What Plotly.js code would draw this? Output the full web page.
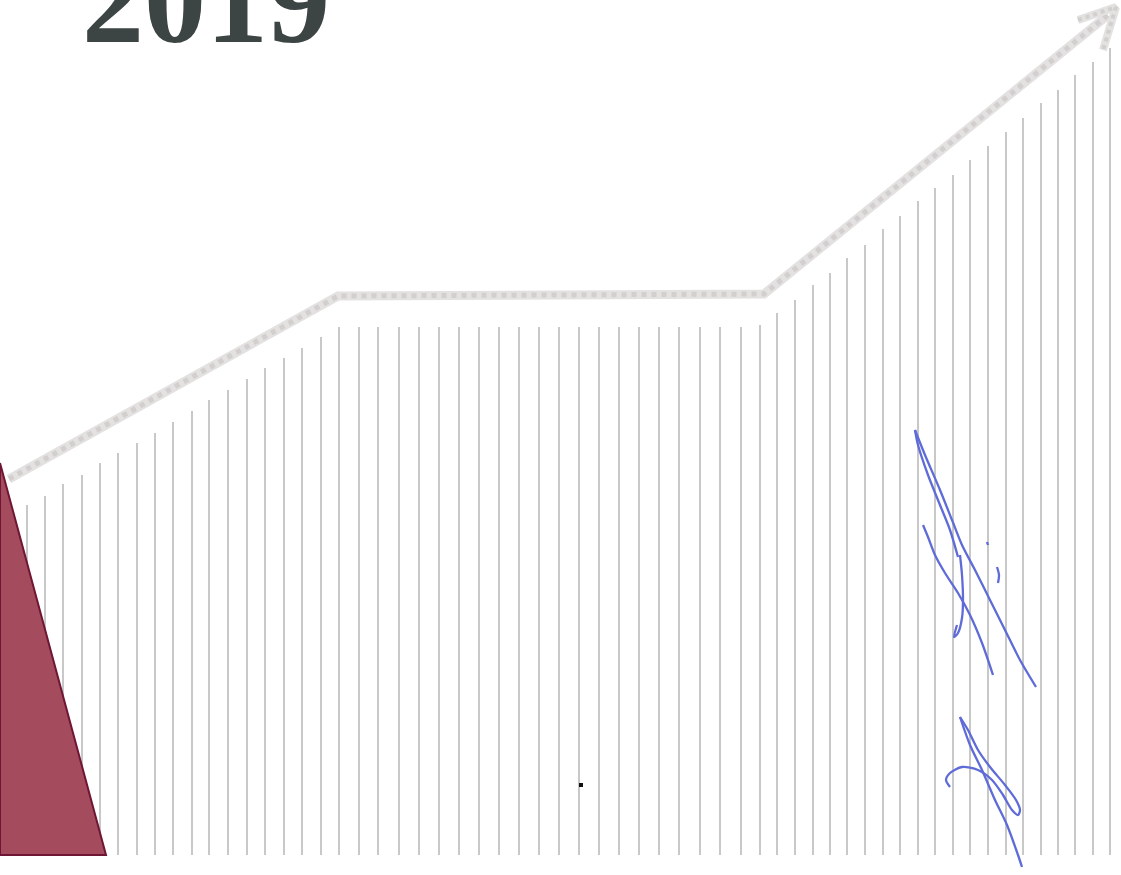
<!DOCTYPE html>
<html>
<head>
<meta charset="utf-8">
<script src="https://cdn.plot.ly/plotly-3.0.1.min.js"></script>
<style>
html,body{margin:0;padding:0;background:#fff;}
#chart{width:1121px;height:875px;}
</style>
</head>
<body>
<div id="chart"></div>
<script>
// ---- data ----
const titleText = "2019";

// stem positions (x) and heights above the baseline (y)
const stemX = [27,45,63,82,100,118,137,155,173,192,209,228,247,265,284,302,321,339,359,378,399,419,439,459,479,499,519,539,559,579,599,619,639,659,679,700,720,741,760,777,795,813,830,847,865,883,900,918,935,953,970,988,1006,1023,1041,1058,1075,1093,1110];
const stemH = [350,359,371,380,392,402,412,422,433,444,455,465,476,487,497,507,518,528,528,528,528,528,528,528,528,528,528,528,528,528,528,528,528,528,528,528,528,528,530,542,555,570,582,597,610,626,639,654,667,680,695,709,723,737,752,765,780,793,807];

// trend arrow path
const arrowX = [9, 338, 764, 1108];
const arrowY = [376, 559, 561, 840];
const headX = [1078, 1116, 1103];
const headY = [835, 848, 805];

// decorative triangle
const triX = [0, 106, 0, 0];
const triY = [392, 0, 0, 392];

// signature strokes
const sig1X = [915,925,940,952,962,975,990,1005,1020,1036];
const sig1Y = [425,400,365,335,310,285,255,225,195,168];
const sig1bX = [915,918,928,940,950,958];
const sig1bY = [425,410,380,350,325,298];
const sig2X = [923,928,935,945,958,970,982,993];
const sig2Y = [330,318,300,282,262,240,212,180];
const sig3X = [960,962,963,962,958,954,957];
const sig3Y = [300,280,255,237,222,218,230];
const sig4X = [987,988, null, 997,999,998];
const sig4Y = [313,310, null, 288,280,272];
const sig5X = [960,970,982,995,1007,1018,1022];
const sig5Y = [138,110,85,55,30,0,-12];
const sig5bX = [960,968,978,990,1005,1016,1020,1018,1012,1003,992,978,962,950,946,950];
const sig5bY = [138,125,105,88,70,55,45,40,45,60,75,85,88,82,75,68];
const dotX = [581];
const dotY = [70];

// ---- build traces ----
const stems = {
  type: 'bar', x: stemX, y: stemH, width: 1.1,
  marker: {color: '#c8c8c8', line: {width: 0}},
  hoverinfo: 'skip', showlegend: false
};
const arrowBase = {
  type: 'scatter', mode: 'lines', x: arrowX, y: arrowY,
  line: {color: '#e4e1e1', width: 9}, hoverinfo: 'skip', showlegend: false
};
const arrowTex = {
  type: 'scatter', mode: 'lines', x: arrowX, y: arrowY,
  line: {color: '#d3cfcf', width: 5, dash: 'dot'}, hoverinfo: 'skip', showlegend: false
};
const headBase = {
  type: 'scatter', mode: 'lines', x: headX, y: headY,
  line: {color: '#e4e1e1', width: 8}, hoverinfo: 'skip', showlegend: false
};
const headTex = {
  type: 'scatter', mode: 'lines', x: headX, y: headY,
  line: {color: '#d3cfcf', width: 4, dash: 'dot'}, hoverinfo: 'skip', showlegend: false
};
const tri = {
  type: 'scatter', mode: 'lines', x: triX, y: triY, fill: 'toself',
  fillcolor: '#a44c5e', line: {color: '#6e1633', width: 2},
  hoverinfo: 'skip', showlegend: false
};
function sig(x, y) {
  return {type: 'scatter', mode: 'lines', x: x, y: y, connectgaps: false,
    line: {color: '#5f6cd8', width: 2.3, shape: 'spline', smoothing: 0.8},
    hoverinfo: 'skip', showlegend: false};
}
const dot = {type: 'scatter', mode: 'markers', x: dotX, y: dotY,
  marker: {color: '#111', size: 4, symbol: 'square'}, hoverinfo: 'skip', showlegend: false};

const data = [stems, arrowBase, arrowTex, headBase, headTex, tri,
  sig(sig1X, sig1Y), sig(sig1bX, sig1bY), sig(sig2X, sig2Y), sig(sig3X, sig3Y),
  sig(sig4X, sig4Y), sig(sig5X, sig5Y), sig(sig5bX, sig5bY), dot];

const layout = {
  width: 1121, height: 875,
  margin: {l: 0, r: 0, t: 0, b: 0},
  paper_bgcolor: '#ffffff', plot_bgcolor: '#ffffff',
  xaxis: {range: [0, 1121], visible: false, fixedrange: true},
  yaxis: {range: [-20, 855], visible: false, fixedrange: true},
  bargap: 0,
  annotations: [{
    text: '<b>' + titleText + '</b>', x: 80, y: 855, xref: 'x', yref: 'y',
    xanchor: 'left', yanchor: 'middle', showarrow: false,
    font: {family: 'Times New Roman', size: 124, color: '#3c4543'}
  }]
};

Plotly.newPlot('chart', data, layout, {displayModeBar: false, staticPlot: true});
</script>
</body>
</html>
